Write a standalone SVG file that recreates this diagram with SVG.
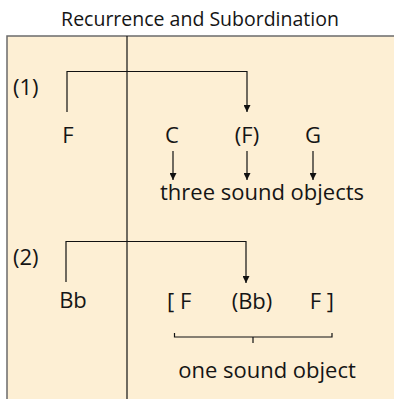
<svg xmlns="http://www.w3.org/2000/svg" width="394" height="399" viewBox="0 0 394 399">
<defs>
<style>
text{font-family:"Open Sans","Liberation Sans",sans-serif;fill:#151515;font-size:22px}
#title text{font-size:19.5px}
.ln{stroke:#111;stroke-width:1.2;fill:none}
.m{text-anchor:middle}
</style>
<marker id="ah" viewBox="0 0 10 10" refX="10" refY="5" markerWidth="7" markerHeight="7" markerUnits="userSpaceOnUse" orient="auto">
<path d="M0,0 L10,5 L0,10 z" fill="#111"/>
</marker>
</defs>
<rect width="394" height="399" fill="#fff"/>
<g id="title"><text x="200" y="26" class="m">Recurrence and Subordination</text></g>
<rect id="panel" x="7" y="36" width="400" height="380" fill="#fdefd4" stroke="#6b6b6b" stroke-width="1.5"/>
<g id="connectors">
<line class="ln" x1="127" y1="36" x2="127" y2="399"/>
<polyline class="ln" points="67,112 67,71.5 247,71.5 247,112" marker-end="url(#ah)"/>
<line class="ln" x1="173" y1="151" x2="173" y2="180" marker-end="url(#ah)"/>
<line class="ln" x1="247" y1="151" x2="247" y2="180" marker-end="url(#ah)"/>
<line class="ln" x1="313" y1="151" x2="313" y2="180" marker-end="url(#ah)"/>
<polyline class="ln" points="66,282 66,241.5 246,241.5 246,283" marker-end="url(#ah)"/>
<path class="ln" d="M174.5,333 V337 H332 V333 M253,337 V343" stroke-width="1" stroke="#444"/>
</g>
<g id="label1"><text x="13" y="95">(1)</text></g>
<g id="F1"><text x="68" y="143" class="m">F</text></g>
<g id="C"><text x="172" y="143" class="m">C</text></g>
<g id="F2"><text x="247" y="143" class="m">(F)</text></g>
<g id="G"><text x="313" y="143" class="m">G</text></g>
<g id="three"><text x="262" y="200" class="m">three sound objects</text></g>
<g id="label2"><text x="13" y="265">(2)</text></g>
<g id="Bb"><text x="73" y="308" class="m">Bb</text></g>
<g id="seq"><text x="167" y="309">[ F</text><text x="252" y="309" class="m">(Bb)</text><text x="334" y="309" text-anchor="end">F ]</text></g>
<g id="one"><text x="267" y="378" class="m">one sound object</text></g>
</svg>
